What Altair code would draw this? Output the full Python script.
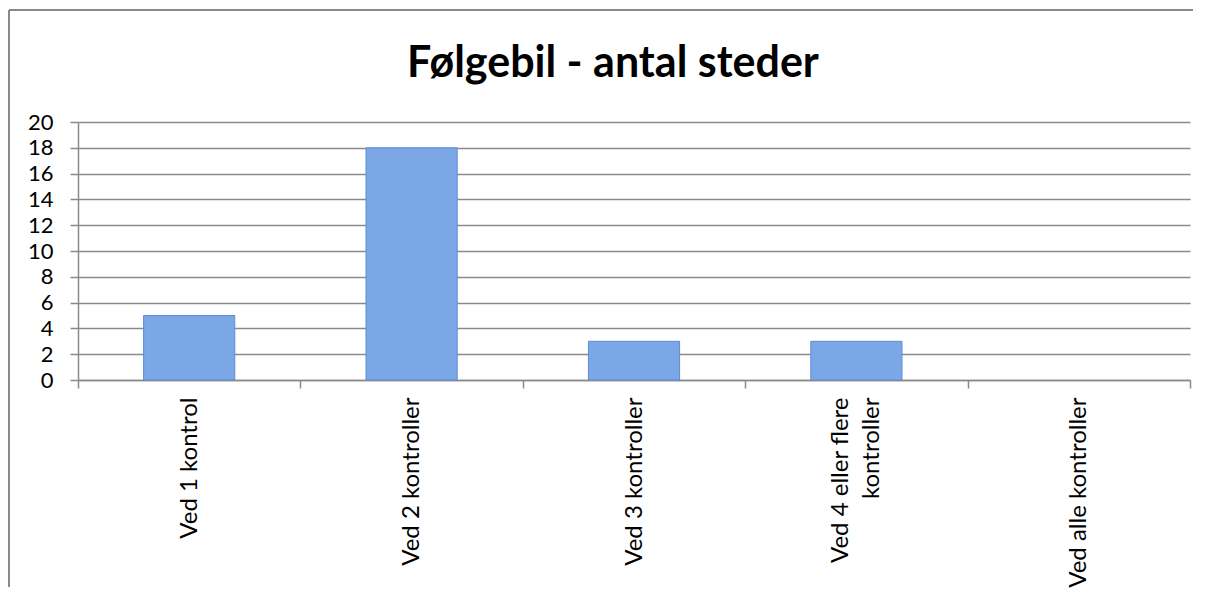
import altair as alt
import pandas as pd

categories = [
    "Ved 1 kontrol",
    "Ved 2 kontroller",
    "Ved 3 kontroller",
    "Ved 4 eller flere kontroller",
    "Ved alle kontroller",
]
values = [5, 18, 3, 3, 0]
y_ticks = [0, 2, 4, 6, 8, 10, 12, 14, 16, 18, 20]
title_text = "Følgebil - antal steder"

df = pd.DataFrame({"category": categories, "value": values})

W, H = 1112, 258
GRAY = "#8a8a8a"
FONT = "Lato"

label_expr = (
    "datum.label == 'Ved 4 eller flere kontroller' ? "
    "['Ved 4 eller flere', 'kontroller'] : datum.label"
)

bars = alt.Chart(df).mark_bar(
    width=alt.RelativeBandSize(0.41),
    color="#7ba7e6",
    stroke="#5b8ed6",
    strokeWidth=1,
).encode(
    x=alt.X(
        "category:N",
        sort=categories,
        title=None,
        scale=alt.Scale(paddingInner=0, paddingOuter=0),
        axis=alt.Axis(
            labelAngle=270,
            tickBand="extent",
            ticks=True,
            tickSize=8,
            tickColor=GRAY,
            tickWidth=1.5,
            domainColor=GRAY,
            domainWidth=1.5,
            labelFont=FONT,
            labelFontSize=24,
            labelColor="black",
            labelPadding=9,
            labelLineHeight=31,
            labelLimit=0,
            labelExpr=label_expr,
            labelOffset={
                "condition": {
                    "test": "datum.value == 'Ved 4 eller flere kontroller'",
                    "value": -16,
                },
                "value": 0,
            },
            grid=False,
        ),
    ),
    y=alt.Y(
        "value:Q",
        title=None,
        scale=alt.Scale(domain=[0, 20], nice=False),
        axis=alt.Axis(
            values=y_ticks,
            tickSize=8,
            tickColor=GRAY,
            tickWidth=1.5,
            domainColor=GRAY,
            domainWidth=1.5,
            grid=True,
            gridColor=GRAY,
            gridWidth=1.5,
            labelFont=FONT,
            labelFontSize=22,
            labelColor="black",
            labelPadding=17,
        ),
    ),
    strokeOpacity=alt.condition(alt.datum.value > 0, alt.value(1), alt.value(0)),
)

title = alt.Chart(pd.DataFrame({"t": [title_text]})).mark_text(
    font=FONT, fontSize=43, fontWeight="bold", align="center",
    baseline="alphabetic", color="black",
).encode(text="t:N", x=alt.value(535), y=alt.value(-45))

frame_df = pd.DataFrame({"a": [0]})
left_border = alt.Chart(frame_df).mark_rule(color=GRAY, strokeWidth=2).encode(
    x=alt.value(-69), y=alt.value(-112), y2=alt.value(465)
)
top_border = alt.Chart(frame_df).mark_rule(color=GRAY, strokeWidth=2).encode(
    x=alt.value(-69), x2=alt.value(1115), y=alt.value(-112)
)

chart = alt.layer(bars, title, left_border, top_border).properties(
    width=W, height=H, padding={"left": 0, "top": 1, "right": 0, "bottom": 0},
    background="white",
).configure_view(stroke=None)

chart.save("out.html", embed_options={"renderer": "svg", "actions": False})
